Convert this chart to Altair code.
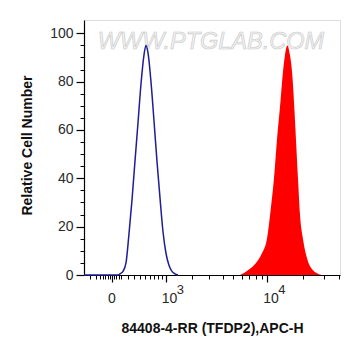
import altair as alt
import pandas as pd

# Blue (control) histogram: fluorescence values and relative counts
blue_x = [-397, 68, 93, 132, 173, 216, 262, 310, 362, 416, 473, 513, 555, 620, 689,
          763, 840, 922, 1009, 1100, 1197, 1300, 1409]
blue_y = [0, 0, 0.5, 1.5, 5, 17, 31, 47, 63, 79, 91, 95, 92, 80, 64,
          47, 32, 18, 9, 4, 1.5, 0.5, 0]

# Red (antibody) histogram
red_x = [5775, 6802, 7998, 9016, 9959, 10776, 11443, 12135, 12874, 13652, 14197,
         14848, 15648, 16363, 17011, 17583, 18276, 18997, 20126, 21741, 24400, 28998]
red_y = [0, 2, 5, 9, 15, 28, 40, 56, 69.5, 84, 91,
         95, 91, 83, 69.5, 56, 40, 25, 15, 7, 2, 0]

x_major = [0, 1000, 10000]
x_minor = [-300, -200, -150, -100, -75, -50, -25, 25, 50, 75,
           100, 200, 300, 400, 500, 600, 700, 800, 900,
           2000, 3000, 4000, 5000, 6000, 7000, 8000, 9000,
           20000, 30000, 40000]
y_major = [0, 20, 40, 60, 80, 100]
y_minor = [5, 10, 15, 25, 30, 35, 45, 50, 55, 65, 70, 75, 85, 90, 95]

zero_label = pd.DataFrame({"x": [0], "t": ["0"]})
pow_labels = pd.DataFrame({"x": [1000, 10000], "base": ["10", "10"], "exp": ["3", "4"]})

W, H = 256, 255
FONT = "Liberation Sans"

xscale = alt.Scale(type="symlog", constant=575, domain=[-397, 40900], nice=False, zero=False)
yscale = alt.Scale(domain=[0, 105.5], nice=False, zero=False)

xaxis_major = alt.Axis(
    orient="bottom", values=x_major, labels=False, grid=False, tickSize=7, tickWidth=1.2,
    tickColor="black", domainColor="black", domainWidth=1.2,
    title="84408-4-RR (TFDP2),APC-H", titleFont=FONT, titleFontSize=14, titleFontWeight="bold",
    titleColor="#111", titleX=W / 2, titleY=53, titleBaseline="middle", titleAlign="center",
)
xaxis_minor = alt.Axis(
    orient="bottom", values=x_minor, labels=False, grid=False, tickSize=4,
    tickColor="black", domain=False, title=None,
)
yaxis_major = alt.Axis(
    orient="left", values=y_major, grid=False, tickSize=8, tickWidth=1.2,
    tickColor="black", domainColor="black", domainWidth=1.2,
    labelFont=FONT, labelFontSize=14, labelColor="#2a2a2a", labelPadding=3,
    title="Relative Cell Number", titleFont=FONT, titleFontSize=14, titleFontWeight="bold",
    titleColor="#111", titleX=-57, titleY=125, titleBaseline="middle", titleAlign="center", titleAngle=-90,
)
yaxis_minor = alt.Axis(
    orient="left", values=y_minor, labels=False, grid=False, tickSize=4,
    tickColor="black", domain=False, title=None,
)

blue_df = pd.DataFrame({"x": blue_x, "y": blue_y})
red_df = pd.DataFrame({"x": red_x, "y": red_y})

red = alt.Chart(red_df).mark_area(color="#ff0000", interpolate="monotone").encode(
    x=alt.X("x:Q", scale=xscale, axis=xaxis_major),
    y=alt.Y("y:Q", scale=yscale, axis=yaxis_major),
)
blue = alt.Chart(blue_df).mark_line(color="#1e1e96", strokeWidth=1.5, interpolate="monotone").encode(
    x=alt.X("x:Q", scale=xscale, axis=xaxis_minor),
    y=alt.Y("y:Q", scale=yscale, axis=yaxis_minor),
)

zero_txt = alt.Chart(zero_label).mark_text(
    font=FONT, fontSize=14, color="#2a2a2a", align="center", baseline="alphabetic"
).encode(x=alt.X("x:Q", scale=xscale, axis=None), y=alt.value(H + 28), text="t:N")

base_txt = alt.Chart(pow_labels).mark_text(
    font=FONT, fontSize=14, color="#2a2a2a", align="left", baseline="alphabetic", dx=-4
).encode(x=alt.X("x:Q", scale=xscale, axis=None), y=alt.value(H + 28), text="base:N")

exp_txt = alt.Chart(pow_labels).mark_text(
    font=FONT, fontSize=13, color="#2a2a2a", align="left", baseline="alphabetic", dx=11
).encode(x=alt.X("x:Q", scale=xscale, axis=None), y=alt.value(H + 19), text="exp:N")

watermark = alt.Chart(pd.DataFrame({"t": ["WWW.PTGLAB.COM"]})).mark_text(
    font=FONT, fontSize=23.5, fontStyle="italic", color="#f2f2f2", stroke="#c8c8c8",
    strokeWidth=0.6, align="center", baseline="middle"
).encode(x=alt.value(127), y=alt.value(22), text="t:N")

chart = alt.layer(watermark, red, blue, zero_txt, base_txt, exp_txt).resolve_axis(
    x="independent", y="independent"
).properties(
    width=W, height=H,
    autosize=alt.AutoSizeParams(type="none"),
    padding={"left": 76, "top": 12, "right": 10, "bottom": 70},
).configure_view(stroke="black", strokeWidth=1.2).configure(background="white")

chart.save("out.html", embed_options={"renderer": "svg", "actions": False})
